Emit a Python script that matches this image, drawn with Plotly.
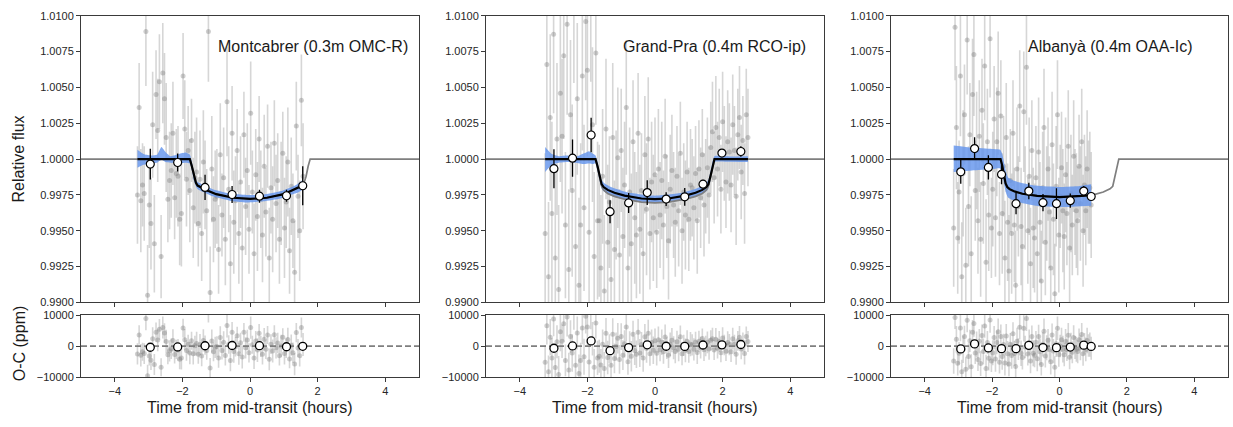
import numpy as np
import plotly.graph_objects as go

# ---------------------------------------------------------------- labels / ticks
site_labels = ["Montcabrer (0.3m OMC-R)", "Grand-Pra (0.4m RCO-ip)", "Albanyà (0.4m OAA-Ic)"]
x_ticks = [-4, -2, 0, 2, 4]
flux_ticks = [0.9900, 0.9925, 0.9950, 0.9975, 1.0000, 1.0025, 1.0050, 1.0075, 1.0100]
oc_ticks = [-10000, 0, 10000]

# ---------------------------------------------------------------- panel 1 : Montcabrer
p1_time = [
    -3.33, -3.28, -3.23, -3.18, -3.13, -3.08, -3.03, -2.98, -2.93, -2.88,
    -2.83, -2.78, -2.73, -2.68, -2.63, -2.58, -2.53, -2.48, -2.43, -2.38,
    -2.33, -2.28, -2.23, -2.18, -2.13, -2.08, -2.03, -1.98, -1.93, -1.88,
    -1.83, -1.78, -1.73, -1.68, -1.63, -1.58, -1.53, -1.48, -1.43, -1.38,
    -1.33, -1.28, -1.23, -1.18, -1.13, -1.08, -1.03, -0.98, -0.93, -0.88,
    -0.83, -0.78, -0.73, -0.68, -0.63, -0.58, -0.53, -0.48, -0.43, -0.38,
    -0.33, -0.28, -0.23, -0.18, -0.13, -0.08, -0.03, 0.02, 0.07, 0.12,
    0.17, 0.22, 0.27, 0.32, 0.37, 0.42, 0.47, 0.52, 0.57, 0.62,
    0.67, 0.72, 0.77, 0.82, 0.87, 0.92, 0.97, 1.02, 1.07, 1.12,
    1.17, 1.22, 1.27, 1.32, 1.37, 1.42, 1.47, 1.52, 1.57]
p1_flux_ppm = [
    -2500, 3600, -2900, -1800, -2400, 8900, -9500, -3200, -4500, 2400,
    -5900, 4500, 2000, 5400, -6800, 6000, 4200, 1500, -2800, -1500,
    -800, 1800, -2700, -1000, -1200, -4200, -3800, 5800, 2100, -1400,
    600, -2200, 1300, -3400, -1300, -900, -4500, -1400, -5200, -200,
    -1800, -3600, 8900, -9300, -700, -4200, -2800, -2600, -6300, 300,
    -3900, -1300, -5600, 4000, -2100, -7300, 1800, -4400, -2900, 600,
    -5200, -1600, -6200, 1700, -3300, -800, -4900, 3200, -2300, -6600,
    -1100, -4000, 1400, -2800, -5300, -500, -3700, 900, -6900, -2000,
    -4200, 1100, -3100, -1500, -5600, -2400, 400, -4800, -3000, -200,
    -6400, -1900, -4300, -7900, 2300, -2600, -5000, 4100, -1200]
p1_err_ppm = [
    3400, 3100, 3600, 2900, 3300, 3800, 3500, 3000, 3200, 3700,
    3400, 3100, 3600, 3300, 2900, 3500, 3200, 3800, 3000, 3400,
    3300, 3600, 2900, 3100, 3500, 3200, 3700, 3000, 3400, 3300,
    3100, 3600, 2900, 3500, 3200, 3800, 3000, 3400, 3300, 3600,
    3100, 2900, 3500, 3200, 3700, 3000, 3400, 3300, 3100, 3600,
    2900, 3500, 3200, 3800, 3000, 3400, 3300, 3600, 3100, 2900,
    3500, 3200, 3700, 3000, 3400, 3300, 3100, 3600, 2900, 3500,
    3200, 3800, 3000, 3400, 3300, 3600, 3100, 2900, 3500, 3200,
    3700, 3000, 3400, 3300, 3100, 3600, 2900, 3500, 3200, 3800,
    3000, 3400, 3300, 3600, 3100, 2900, 3500, 3200, 3700]
p1_bin_time = [-2.95, -2.14, -1.33, -0.53, 0.28, 1.08, 1.56]
p1_bin_ppm = [-350, -240, -1980, -2470, -2590, -2560, -1860]
p1_bin_err = [1070, 630, 880, 600, 450, 420, 1360]
p1_model_time = [-5, -1.78, -1.72, -1.66, -1.60, -1.55, -1.45, -1.30, -1.00, -0.50, 0,
                 0.50, 1.00, 1.30, 1.45, 1.55, 1.60, 1.66, 1.72, 1.78, 5]
p1_model_ppm = [0, 0, -500, -1200, -1650, -1850, -1980, -2150, -2450, -2700, -2780,
                -2700, -2450, -2150, -1980, -1850, -1650, -1200, -500, 0, 0]
p1_band_time = [-3.33, -3.15, -2.95, -2.75, -2.62, -2.50, -2.35, -2.10, -1.90, -1.78, -1.72,
                -1.66, -1.60, -1.55, -1.40, -1.10, -0.60, -0.10, 0.40, 0.90, 1.20, 1.40, 1.57]
p1_band_hi = [650, 350, 250, 300, 850, 500, 200, 350, 450, 300, -200,
              -900, -1400, -1600, -1780, -2100, -2400, -2500, -2480, -2250, -1980, -1750, -1450]
p1_band_lo = [-600, -400, -300, -250, -50, -200, -250, -300, -250, -300, -800,
              -1500, -1900, -2100, -2280, -2600, -2900, -3030, -2950, -2750, -2500, -2350, -2100]

# ---------------------------------------------------------------- panel 2 : Grand-Pra
p2_time = [
    -3.25, -3.20, -3.15, -3.10, -3.05, -3.00, -2.95, -2.90, -2.85, -2.80, -2.75,
    -2.70, -2.65, -2.60, -2.55, -2.50, -2.45, -2.40, -2.35, -2.30, -2.25, -2.20,
    -2.15, -2.10, -2.05, -2.00, -1.95, -1.90, -1.85, -1.80, -1.75, -1.70, -1.65,
    -1.60, -1.55, -1.50, -1.45, -1.40, -1.35, -1.30, -1.25, -1.20, -1.15, -1.10,
    -1.05, -1.00, -0.95, -0.90, -0.85, -0.80, -0.75, -0.70, -0.65, -0.60, -0.55,
    -0.50, -0.45, -0.40, -0.35, -0.30, -0.25, -0.20, -0.15, -0.10, -0.05, 0.00,
    0.05, 0.10, 0.15, 0.20, 0.25, 0.30, 0.35, 0.40, 0.45, 0.50, 0.55,
    0.60, 0.65, 0.70, 0.75, 0.80, 0.85, 0.90, 0.95, 1.00, 1.05, 1.10,
    1.15, 1.20, 1.25, 1.30, 1.35, 1.40, 1.45, 1.50, 1.55, 1.60, 1.65,
    1.70, 1.75, 1.80, 1.85, 1.90, 1.95, 2.00, 2.05, 2.10, 2.15, 2.20,
    2.25, 2.30, 2.35, 2.40, 2.45, 2.50, 2.55, 2.60, 2.65, 2.70, 2.75]
p2_flux_ppm = [
    -5200, 6600, -8200, 2900, -3800, 8700, -6900, 1400, -9100, 4600, 1600,
    7200, -4600, 9400, -7700, 3100, -2200, 10800, -6100, 4200, -8800, -4600,
    5800, -3400, 9600, 6200, -5100, 11000, 2400, -6800, 7400, -4300, -4300,
    -7600, -1200, -9200, 2100, -5800, -3000, -8400, 1500, -6300, -2500, 100,
    -6700, 600, -5400, -1800, 3600, -7600, -2300, -5900, 1200, -4100, -5300,
    1800, -4900, -2200, -6600, 300, -3500, 1400, -5200, -1600, -4100, -1100,
    -5100, -700, -3900, -1500, -4600, 200, -3300, -5700, -2100, -800, -3200,
    -4400, -1200, -3600, 400, -5000, -2300, -3900, -900, -4200, -1800, -2000,
    -3400, -1000, -4300, -700, -2700, 300, -3200, -1900, -600, -2500, 800,
    1900, -1300, 2200, -700, 1500, -2100, 2600, 400, -1600, 1200, 500,
    -1800, 2400, 600, -2600, 1700, 2900, -900, 1300, -2400, 3100, 1500]
p2_err_ppm = [
    5600, 6100, 5200, 5800, 6400, 5500, 6000, 5300, 5900, 6200, 5400,
    5800, 5100, 6300, 5600, 5200, 6000, 5500, 5900, 5300, 6100, 5700,
    5200, 5800, 5500, 6000, 5100, 5600, 5400, 5900, 5000, 5500, 5300,
    5100, 4700, 5300, 4900, 5400, 4600, 5000, 5200, 4800, 4500, 4900,
    4600, 4300, 4800, 4400, 4700, 4200, 4500, 4900, 4300, 4600, 4400,
    4200, 4500, 4000, 4400, 4100, 4600, 4300, 3900, 4200, 4400, 4000,
    3900, 4200, 3700, 4100, 3800, 4000, 3600, 4100, 3800, 3900, 3700,
    3800, 3500, 3900, 3600, 3700, 3400, 3800, 3500, 3600, 3900, 3400,
    3600, 3300, 3700, 3400, 3500, 3200, 3600, 3300, 3500, 3400, 3200,
    3500, 3200, 3600, 3300, 3400, 3100, 3500, 3300, 3200, 3600, 3400,
    3300, 3500, 3100, 3400, 3200, 3600, 3300, 3100, 3500, 3200, 3400]
p2_bin_time = [-2.99, -2.44, -1.89, -1.33, -0.78, -0.23, 0.33, 0.88, 1.42, 1.98, 2.54]
p2_bin_ppm = [-670, 60, 1680, -3670, -3060, -2340, -2790, -2630, -1750, 420, 530]
p2_bin_err = [1360, 1300, 1200, 800, 700, 870, 480, 620, 300, 250, 360]
p2_model_time = [-5, -1.76, -1.70, -1.64, -1.58, -1.52, -1.40, -1.20, -0.90, -0.40, 0,
                 0.40, 0.90, 1.20, 1.40, 1.52, 1.58, 1.64, 1.70, 1.76, 5]
p2_model_ppm = [0, 0, -500, -1200, -1750, -1950, -2150, -2350, -2550, -2750, -2800,
                -2750, -2550, -2350, -2150, -1950, -1750, -1200, -500, 0, 0]
p2_full_model_ppm = [0, 0, -550, -1300, -1900, -2150, -2400, -2600, -2800, -3000, -3050,
                     -3000, -2800, -2600, -2400, -2150, -1900, -1300, -550, 0, 0]
p2_band_time = [-3.25, -3.05, -2.85, -2.60, -2.35, -2.10, -1.95, -1.82, -1.76, -1.70, -1.64,
                -1.58, -1.52, -1.30, -0.80, 0, 0.80, 1.30, 1.52, 1.58, 1.64, 1.70, 1.76,
                2.20, 2.75]
p2_band_hi = [850, 350, 200, 250, 150, 400, 550, 350, 250, -200, -900,
              -1450, -1650, -1950, -2330, -2550, -2350, -1980, -1650, -1450, -900, -200, 200,
              180, 200]
p2_band_lo = [-900, -400, -250, -200, -250, -350, -300, -350, -300, -850, -1500,
              -2050, -2250, -2550, -2870, -3050, -2870, -2550, -2250, -2050, -1500, -800, -200,
              -180, -200]

# ---------------------------------------------------------------- panel 3 : Albanya
p3_time = [
    -3.14, -3.10, -3.06, -3.02, -2.98, -2.94, -2.90, -2.86, -2.82, -2.78,
    -2.74, -2.70, -2.66, -2.62, -2.58, -2.54, -2.50, -2.46, -2.42, -2.38,
    -2.34, -2.30, -2.26, -2.22, -2.18, -2.14, -2.10, -2.06, -2.02, -1.98,
    -1.94, -1.90, -1.86, -1.82, -1.78, -1.74, -1.70, -1.66, -1.62, -1.58, -1.54,
    -1.50, -1.46, -1.42, -1.38, -1.34, -1.30, -1.26, -1.22, -1.18, -1.14,
    -1.10, -1.06, -1.02, -0.98, -0.94, -0.90, -0.86, -0.82, -0.78, -0.74,
    -0.70, -0.66, -0.62, -0.58, -0.54, -0.50, -0.46, -0.42, -0.38, -0.34, -0.30,
    -0.26, -0.22, -0.18, -0.14, -0.10, -0.06, -0.02, 0.02, 0.06, 0.10,
    0.14, 0.18, 0.22, 0.26, 0.30, 0.34, 0.38, 0.42, 0.46, 0.50,
    0.54, 0.58, 0.62, 0.66, 0.70, 0.74, 0.78, 0.82, 0.86,
    0.90, 0.94]
p3_flux_ppm = [
    -4800, 9200, 2200, -5500, -2300, 5800, -8200, -1000, 3100, -7400,
    8300, -3300, 1700, -6600, 4500, 7300, -2200, 600, -4300, 1600,
    -5600, 3400, -1700, 6500, -7200, 1200, -3900, 8400, -4800, -2100,
    2800, -4100, 1200, 4600, -5200, 3000, -3800, -500, -6900, 1500, -4400,
    -7800, -1500, -5200, 1800, -4600, -8800, -700, -3300, 3700, -4700,
    -6100, 3300, -2700, 6400, -5000, -1200, -7300, 600, -4800, -5500,
    -1300, -6600, 500, -4400, -8500, -2000, 2200, -5800, -3100, -700, -3700,
    -7600, 1000, -4200, -9400, -1900, 3100, -5300, -2600, -600, -3600,
    -5400, -1100, -3800, 900, -6200, -2400, -4600, 200, -3000, -3600,
    -4300, -500, -3100, 1200, -5000, -1800, -3600, -700, -2300,
    -2000, -3200]
p3_err_ppm = [
    4100, 3700, 4300, 3900, 3600, 4200, 3800, 4400, 3500, 4000,
    3800, 4200, 3600, 4000, 3900, 4300, 3500, 4100, 3700, 3900,
    4000, 3600, 4200, 3800, 4400, 3700, 3900, 4100, 3500, 4000,
    3700, 4100, 3800, 4300, 3600, 3900, 4200, 3500, 4000, 3800, 4100,
    3900, 3600, 4200, 3700, 4000, 3800, 4300, 3500, 3900, 4100,
    3800, 4200, 3600, 4000, 3700, 4100, 3900, 3500, 4200, 3800,
    3600, 4000, 3800, 4200, 3500, 3900, 4100, 3700, 4000, 3600, 3900,
    4100, 3700, 3900, 3500, 4200, 3800, 4000, 3600, 3900, 4300,
    3700, 4000, 3600, 3900, 3800, 4100, 3500, 3900, 3700, 4000,
    3800, 3600, 4000, 3700, 3900, 3500, 3800, 4100, 3600,
    3900, 3700]
p3_bin_time = [-2.93, -2.52, -2.11, -1.72, -1.29, -0.91, -0.49, -0.09, 0.32, 0.72, 0.94]
p3_bin_ppm = [-890, 730, -580, -1070, -3110, -2230, -3040, -3110, -2900, -2230, -2610]
p3_bin_err = [830, 800, 850, 680, 740, 570, 600, 1070, 500, 360, 200]
p3_model_time = [-5, -1.75, -1.70, -1.65, -1.60, -1.55, -1.48, -1.35, -1.10, -0.66, 0,
                 0.66, 1.00, 1.30, 1.50, 1.58, 1.64, 1.70, 1.76, 5]
p3_model_ppm = [0, 0, -450, -1150, -1700, -1950, -2100, -2250, -2420, -2570, -2650,
                -2570, -2500, -2300, -2080, -1900, -1300, -600, 0, 0]
p3_band_time = [-3.14, -2.60, -2.00, -1.76, -1.70, -1.64, -1.58, -1.52, -1.30, -0.70, 0,
                0.50, 0.94]
p3_band_hi = [950, 800, 700, 650, 350, -300, -950, -1300, -1550, -1850, -1950, -1900, -1750]
p3_band_lo = [-900, -800, -700, -650, -1000, -1800, -2400, -2700, -2950, -3250, -3350,
              -3300, -3250]

panels = [
    dict(t=p1_time, f=p1_flux_ppm, e=p1_err_ppm, bt=p1_bin_time, bf=p1_bin_ppm, be=p1_bin_err,
         mt=p1_model_time, mf=p1_model_ppm, gf=p1_model_ppm,
         bandt=p1_band_time, bandhi=p1_band_hi, bandlo=p1_band_lo),
    dict(t=p2_time, f=p2_flux_ppm, e=p2_err_ppm, bt=p2_bin_time, bf=p2_bin_ppm, be=p2_bin_err,
         mt=p2_model_time, mf=p2_model_ppm, gf=p2_full_model_ppm,
         bandt=p2_band_time, bandhi=p2_band_hi, bandlo=p2_band_lo),
    dict(t=p3_time, f=p3_flux_ppm, e=p3_err_ppm, bt=p3_bin_time, bf=p3_bin_ppm, be=p3_bin_err,
         mt=p3_model_time, mf=p3_model_ppm, gf=p3_model_ppm,
         bandt=p3_band_time, bandhi=p3_band_hi, bandlo=p3_band_lo),
]

# ---------------------------------------------------------------- styling / layout
W, H = 1233, 427
FONT = "Arial, 'Liberation Sans', Helvetica, sans-serif"
TXT = "#262626"
EDGE = "#3a3a3a"
col_px = [(81, 419), (486, 824), (891, 1228)]
top_px = (10, 305)
bot_px = (318, 382)
RAW_MARK = "rgba(115,115,115,0.35)"
RAW_ERR = "rgba(165,165,165,0.45)"
BAND = "rgba(100,149,237,0.82)"


def ydom(px):
    return [1 - px[1] / H, 1 - px[0] / H]


fig = go.Figure()
layout = {}
annotations = []


def axname(i, kind):
    return kind if i == 1 else f"{kind}{i}"


for c, p in enumerate(panels):
    it, ib = 2 * c + 1, 2 * c + 2
    xt, yt = axname(it, "x"), axname(it, "y")
    xb, yb = axname(ib, "x"), axname(ib, "y")
    xdom = [col_px[c][0] / W, col_px[c][1] / W]

    t = np.array(p["t"], float)
    f = np.array(p["f"], float)
    e = np.array(p["e"], float)
    mt = np.array(p["mt"], float)
    mf = np.array(p["mf"], float)
    model_at_t = np.interp(t, mt, mf)
    resid = f - model_at_t
    bt = np.array(p["bt"], float)
    bf = np.array(p["bf"], float)
    bresid = bf - np.interp(bt, mt, mf)

    # raw data
    fig.add_trace(go.Scatter(
        x=t, y=1 + f * 1e-6, mode="markers", xaxis=xt, yaxis=yt,
        marker=dict(size=5, color=RAW_MARK),
        error_y=dict(type="data", array=e * 1e-6, color=RAW_ERR, thickness=1.6, width=0),
        showlegend=False, hoverinfo="skip"))
    # model band
    fig.add_trace(go.Scatter(
        x=p["bandt"], y=[1 + v * 1e-6 for v in p["bandlo"]], mode="lines",
        line=dict(width=0, color=BAND, shape="spline", smoothing=0.5),
        xaxis=xt, yaxis=yt, showlegend=False, hoverinfo="skip"))
    fig.add_trace(go.Scatter(
        x=p["bandt"], y=[1 + v * 1e-6 for v in p["bandhi"]], mode="lines",
        line=dict(width=0, color=BAND, shape="spline", smoothing=0.5),
        fill="tonexty", fillcolor=BAND,
        xaxis=xt, yaxis=yt, showlegend=False, hoverinfo="skip"))
    # full model (gray)
    fig.add_trace(go.Scatter(
        x=mt, y=1 + np.array(p["gf"], float) * 1e-6, mode="lines",
        line=dict(color="#7f7f7f", width=1.7), xaxis=xt, yaxis=yt,
        showlegend=False, hoverinfo="skip"))
    # model over the data span (black)
    t0, t1 = t.min(), t.max()
    inside = (mt > t0) & (mt < t1)
    bx = np.concatenate([[t0], mt[inside], [t1]])
    by = np.interp(bx, mt, mf)
    fig.add_trace(go.Scatter(
        x=bx, y=1 + by * 1e-6, mode="lines", line=dict(color="black", width=2.2),
        xaxis=xt, yaxis=yt, showlegend=False, hoverinfo="skip"))
    # binned points
    fig.add_trace(go.Scatter(
        x=bt, y=1 + bf * 1e-6, mode="markers", xaxis=xt, yaxis=yt,
        marker=dict(size=8, color="white", line=dict(color="black", width=1.2)),
        error_y=dict(type="data", array=np.array(p["be"], float) * 1e-6,
                     color="black", thickness=1.3, width=0),
        showlegend=False, hoverinfo="skip"))

    # residual panel
    fig.add_trace(go.Scatter(
        x=t, y=resid, mode="markers", xaxis=xb, yaxis=yb,
        marker=dict(size=5, color=RAW_MARK),
        error_y=dict(type="data", array=e, color=RAW_ERR, thickness=1.6, width=0),
        showlegend=False, hoverinfo="skip"))
    fig.add_trace(go.Scatter(
        x=[-5, 5], y=[0, 0], mode="lines", xaxis=xb, yaxis=yb,
        line=dict(color="#7f7f7f", width=1.6, dash="6px,3px"),
        showlegend=False, hoverinfo="skip"))
    fig.add_trace(go.Scatter(
        x=bt, y=bresid, mode="markers", xaxis=xb, yaxis=yb,
        marker=dict(size=8, color="white", line=dict(color="black", width=1.3)),
        showlegend=False, hoverinfo="skip"))

    common = dict(showline=True, mirror=True, linecolor=EDGE, linewidth=1,
                  ticks="outside", ticklen=4, tickwidth=1, tickcolor=EDGE,
                  showgrid=False, zeroline=False,
                  tickfont=dict(family=FONT, size=11, color=TXT))
    layout["xaxis" if it == 1 else f"xaxis{it}"] = dict(
        common, domain=xdom, anchor=yt, range=[-5, 5], tickvals=x_ticks,
        showticklabels=False)
    layout[f"yaxis" if it == 1 else f"yaxis{it}"] = dict(
        common, domain=ydom(top_px), anchor=xt, range=[0.99, 1.01],
        tickvals=flux_ticks, tickformat=".4f")
    layout[f"xaxis{ib}"] = dict(
        common, domain=xdom, anchor=yb, range=[-5, 5], tickvals=x_ticks)
    layout[f"yaxis{ib}"] = dict(
        common, domain=ydom(bot_px), anchor=xb, range=[-10000, 10000],
        tickvals=oc_ticks, tickformat="d")

    # site label
    annotations.append(dict(
        text=site_labels[c], xref="paper", yref="paper",
        x=(col_px[c][0] + 0.40 * (col_px[c][1] - col_px[c][0])) / W,
        y=1 - 42 / H, xanchor="left", yanchor="middle", showarrow=False,
        font=dict(family=FONT, size=16, color="#1a1a1a")))
    # x title
    annotations.append(dict(
        text="Time from mid-transit (hours)", xref="paper", yref="paper",
        x=(col_px[c][0] + col_px[c][1]) / 2 / W, y=1 - 413 / H,
        xanchor="center", yanchor="middle", showarrow=False,
        font=dict(family=FONT, size=16, color="#1a1a1a")))

annotations.append(dict(
    text="Relative flux", xref="paper", yref="paper", x=19 / W, y=1 - 158 / H,
    xanchor="center", yanchor="middle", textangle=-90, showarrow=False,
    font=dict(family=FONT, size=16, color="#1a1a1a")))
annotations.append(dict(
    text="O-C (ppm)", xref="paper", yref="paper", x=19 / W, y=1 - 347 / H,
    xanchor="center", yanchor="middle", textangle=-90, showarrow=False,
    font=dict(family=FONT, size=16, color="#1a1a1a")))

fig.update_layout(
    width=W, height=H, margin=dict(l=0, r=0, t=0, b=0),
    paper_bgcolor="white", plot_bgcolor="white",
    font=dict(family=FONT, color=TXT), showlegend=False,
    annotations=annotations, **layout)

fig.write_html("out.html", config={"displayModeBar": False},
               post_script="document.body.style.margin='0px';"
                           "document.body.style.overflow='hidden';")
